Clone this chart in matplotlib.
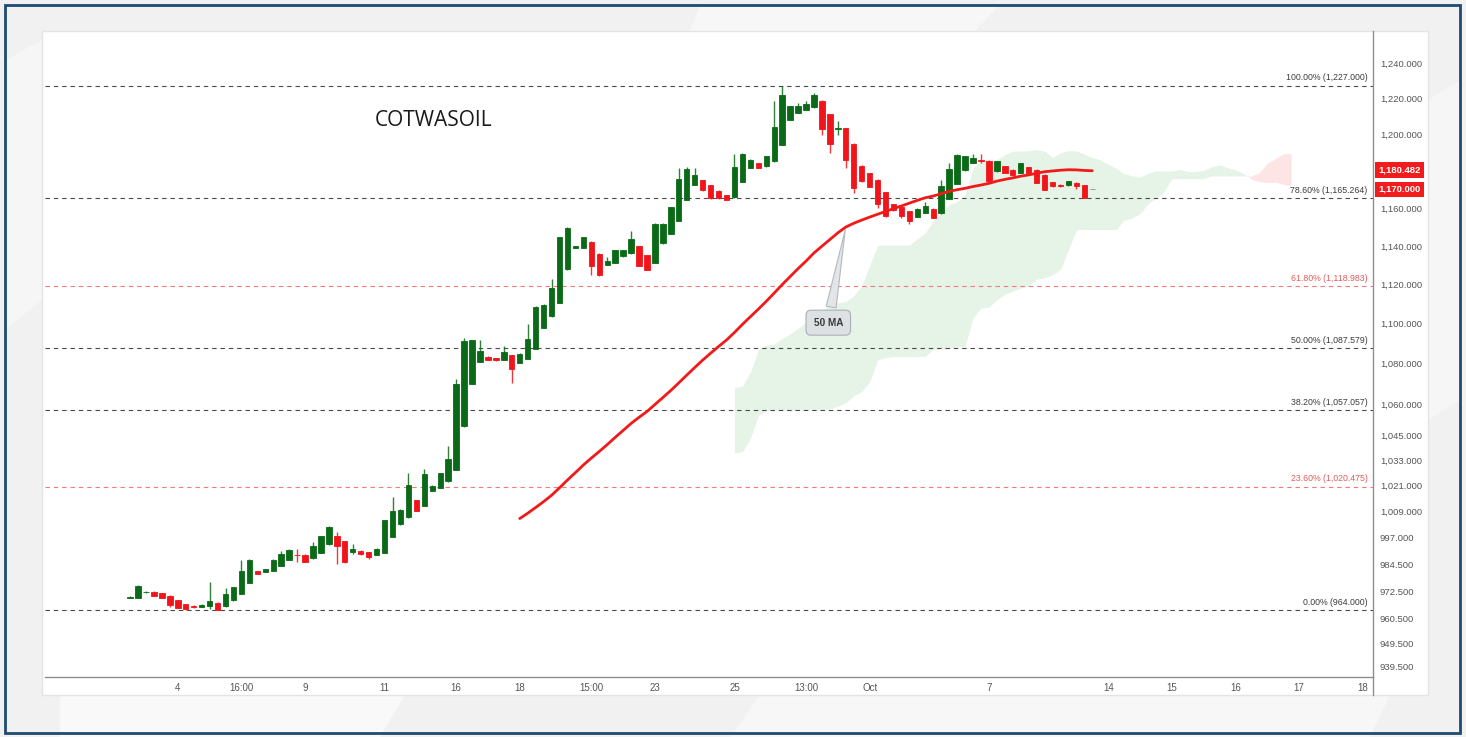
import numpy as np
import pandas as pd
import matplotlib
matplotlib.use("Agg")
import matplotlib.pyplot as plt
from matplotlib.patches import Rectangle, Polygon
from matplotlib.lines import Line2D
from matplotlib.transforms import blended_transform_factory
from matplotlib.ticker import FixedLocator, FixedFormatter, NullLocator

plt.rcParams["font.family"] = ["Liberation Sans", "DejaVu Sans"]

# ---------------- data ----------------
title = "COTWASOIL"

opens = [969.7, 969.7, 972.1, 972.3, 971.7, 970.6, 968.6, 966.8, 966.0, 965.6,
         966.0, 967.4, 965.8, 968.4, 971.5, 976.4, 981.4, 981.2, 981.8, 984.1,
         986.6, 989.0, 988.9, 987.4, 990.0, 993.8, 997.5, 995.2, 990.3, 990.9,
         990.2, 988.9, 990.0, 997.3, 1003.0, 1006.1, 1014.0, 1011.5, 1018.6, 1019.8,
         1023.0, 1028.5, 1049.1, 1070.0, 1080.7, 1083.4, 1082.7, 1081.7, 1084.0, 1080.4,
         1082.4, 1087.3, 1097.9, 1103.7, 1110.5, 1127.7, 1138.8, 1139.0, 1142.1, 1135.9,
         1130.1, 1131.2, 1134.5, 1136.0, 1139.7, 1135.0, 1131.2, 1141.3, 1146.4, 1153.3,
         1164.5, 1172.4, 1174.9, 1172.4, 1169.3, 1167.0, 1165.7, 1174.0, 1181.6, 1184.0,
         1182.5, 1185.2, 1194.3, 1208.1, 1211.8, 1213.7, 1215.0, 1218.7, 1211.2, 1202.8,
         1203.5, 1194.9, 1182.9, 1178.9, 1175.3, 1168.6, 1161.9, 1160.4, 1158.3, 1155.3,
         1157.4, 1159.6, 1157.1, 1164.9, 1173.0, 1180.3, 1184.3, 1185.9, 1185.6, 1179.8,
         1182.5, 1180.7, 1178.9, 1182.0, 1180.7, 1178.0, 1173.8, 1172.6, 1172.2, 1173.5,
         1172.2, 1170.0]
highs = [970.5, 975.3, 972.8, 972.5, 971.9, 970.8, 968.8, 967.0, 966.2, 966.7,
         976.7, 967.6, 974.0, 974.6, 986.7, 987.0, 981.6, 982.7, 986.9, 990.9,
         991.4, 991.7, 989.1, 994.9, 997.7, 1002.1, 999.6, 995.4, 993.7, 991.1,
         990.4, 991.9, 1004.9, 1015.7, 1009.8, 1026.9, 1014.2, 1028.8, 1021.3, 1027.1,
         1039.9, 1072.5, 1092.8, 1091.8, 1091.6, 1083.6, 1082.9, 1088.5, 1084.2, 1085.1,
         1099.5, 1108.7, 1110.0, 1122.5, 1144.8, 1149.8, 1139.9, 1144.8, 1142.3, 1136.1,
         1134.3, 1137.9, 1137.9, 1147.7, 1139.9, 1135.2, 1151.9, 1151.9, 1160.8, 1181.6,
         1182.0, 1181.6, 1175.1, 1172.6, 1169.5, 1167.2, 1189.4, 1189.6, 1186.3, 1184.2,
         1188.1, 1218.7, 1227.0, 1215.7, 1217.4, 1218.7, 1223.0, 1218.9, 1211.4, 1207.5,
         1203.7, 1195.1, 1183.1, 1179.1, 1175.5, 1168.8, 1162.1, 1160.6, 1158.5, 1159.9,
         1163.1, 1159.8, 1174.9, 1184.3, 1189.4, 1188.1, 1189.4, 1189.4, 1185.8, 1185.4,
         1182.7, 1180.9, 1184.5, 1182.2, 1180.9, 1178.2, 1174.0, 1172.8, 1174.6, 1173.7,
         1172.4, 1170.0]
lows = [969.3, 969.5, 971.8, 970.2, 969.3, 965.7, 964.9, 964.0, 965.0, 965.3,
        964.8, 964.2, 965.6, 968.2, 971.3, 976.2, 980.2, 981.0, 981.6, 983.9,
        986.4, 985.9, 985.7, 987.2, 989.8, 993.6, 984.8, 985.3, 989.5, 988.9,
        987.1, 988.7, 989.8, 997.1, 1002.8, 1005.9, 1009.1, 1011.3, 1018.4, 1019.6,
        1022.8, 1028.3, 1048.9, 1069.8, 1080.5, 1081.5, 1081.3, 1081.5, 1070.1, 1080.2,
        1082.2, 1087.1, 1097.7, 1103.5, 1110.3, 1127.5, 1138.6, 1138.8, 1124.6, 1124.4,
        1129.9, 1131.0, 1134.3, 1135.8, 1129.5, 1127.4, 1131.0, 1141.1, 1146.2, 1153.1,
        1164.3, 1172.2, 1169.3, 1164.9, 1164.9, 1164.3, 1165.5, 1173.8, 1181.4, 1181.6,
        1182.3, 1185.0, 1194.1, 1207.9, 1211.6, 1213.5, 1214.8, 1199.8, 1189.8, 1199.8,
        1181.6, 1168.1, 1174.2, 1171.3, 1160.1, 1155.3, 1158.5, 1154.8, 1151.7, 1155.1,
        1157.2, 1154.6, 1156.9, 1164.7, 1172.8, 1180.1, 1184.1, 1184.3, 1174.2, 1179.6,
        1178.7, 1177.4, 1178.7, 1178.7, 1173.3, 1169.7, 1171.5, 1171.5, 1172.0, 1170.2,
        1165.2, 1170.0]
closes = [969.9, 974.9, 972.4, 970.6, 969.5, 966.5, 965.1, 964.8, 965.3, 966.5,
          968.3, 964.3, 971.4, 974.4, 981.6, 986.7, 980.4, 982.5, 986.7, 989.3,
          991.2, 988.7, 985.9, 993.1, 997.5, 1001.5, 992.9, 985.5, 991.7, 989.4,
          988.0, 991.7, 1004.7, 1009.1, 1009.6, 1021.3, 1009.3, 1026.3, 1020.7, 1026.9,
          1033.5, 1070.0, 1091.1, 1091.6, 1086.2, 1081.7, 1081.5, 1085.9, 1077.1, 1084.9,
          1092.0, 1108.5, 1109.5, 1118.3, 1144.6, 1149.6, 1139.7, 1144.6, 1129.4, 1124.6,
          1132.0, 1137.7, 1137.7, 1143.7, 1129.7, 1127.6, 1151.7, 1151.7, 1160.6, 1175.7,
          1181.1, 1177.8, 1169.5, 1165.1, 1165.1, 1164.5, 1182.2, 1189.4, 1186.1, 1181.8,
          1187.9, 1203.9, 1222.1, 1215.5, 1215.9, 1217.0, 1222.1, 1203.0, 1194.9, 1203.7,
          1186.1, 1170.9, 1174.4, 1171.5, 1161.9, 1155.5, 1158.7, 1155.6, 1153.0, 1159.7,
          1161.0, 1154.8, 1172.0, 1181.1, 1188.8, 1187.9, 1187.0, 1185.6, 1174.4, 1185.2,
          1178.9, 1177.6, 1184.3, 1178.9, 1173.5, 1169.9, 1171.7, 1171.7, 1174.4, 1171.7,
          1165.4, 1170.0]

x_tick_index = [6, 14, 22, 32, 41, 49, 58, 66, 76, 85, 93, 108, 123, 131, 139, 147, 155]
x_tick_labels = ["4", "16:00", "9", "11", "16", "18", "15:00", "23", "25", "13:00",
                 "Oct", "7", "14", "15", "16", "17", "18"]

y_ticks = [1240.0, 1220.0, 1200.0, 1160.0, 1140.0, 1120.0, 1100.0, 1080.0, 1060.0,
           1045.0, 1033.0, 1021.0, 1009.0, 997.0, 984.5, 972.5, 960.5, 949.5, 939.5]

fib_ratios = [0.0, 0.236, 0.382, 0.5, 0.618, 0.786, 1.0]
fib_red = [0.236, 0.618]

ma_period = 50
ma_label = "50 MA"
price_labels = [1180.482, 1170.000]

# ---------------- styling ----------------
W, H = 1466, 737
GREEN = "#0b6a17"
RED = "#f2141b"
GRAY = "#8c8c8c"

def fx(px):
    return px / W

def fy(py):
    return 1 - py / H

fig = plt.figure(figsize=(W / 100, H / 100), dpi=100)
fig.patch.set_facecolor("#f1f1f1")

# faint background shapes
shapes = [
    ([(60, 695), (405, 695), (380, 737), (60, 737)], "#f9f9f9"),
    ([(760, 695), (1390, 695), (1370, 737), (730, 737)], "#f7f7f7"),
    ([(700, 5), (1000, 5), (975, 31), (690, 31)], "#f7f7f7"),
    ([(5, 60), (42, 40), (42, 300), (5, 330)], "#f6f6f6"),
    ([(1428, 100), (1460, 80), (1460, 400), (1428, 420)], "#f6f6f6"),
]
for pts, col in shapes:
    fig.add_artist(Polygon([(fx(a), fy(b)) for a, b in pts], closed=True,
                           transform=fig.transFigure, fc=col, ec="none", zorder=0))

# white panel
fig.add_artist(Rectangle((fx(42), fy(695)), fx(1428) - fx(42), fy(31) - fy(695),
                         transform=fig.transFigure, fc="white", ec="#e4e4e4",
                         lw=1, zorder=0.5))
# outer border
fig.add_artist(Rectangle((fx(5), fy(733)), fx(1460) - fx(5), fy(5) - fy(733),
                         transform=fig.transFigure, fill=False, ec="#1f4a72",
                         lw=2.0, zorder=20))

ax = fig.add_axes([fx(45), fy(677), fx(1373) - fx(45), fy(31) - fy(677)])
ax.set_facecolor("none")
ax.set_zorder(2)

o = np.array(opens)
h = np.array(highs)
l = np.array(lows)
c = np.array(closes)
idx = np.arange(len(c))

# ---------------- ichimoku cloud ----------------
hs, ls = pd.Series(h), pd.Series(l)
tenkan = (hs.rolling(9).max() + ls.rolling(9).min()) / 2
kijun = (hs.rolling(26).max() + ls.rolling(26).min()) / 2
span_a = ((tenkan + kijun) / 2).to_numpy()
span_b = ((hs.rolling(52).max() + ls.rolling(52).min()) / 2).to_numpy()
xs = idx + 25
m = ~np.isnan(span_b)
ax.fill_between(xs[m], span_a[m], span_b[m], where=span_a[m] >= span_b[m],
                interpolate=True, color="#e6f3e7", lw=0, zorder=1)
ax.fill_between(xs[m], span_a[m], span_b[m], where=span_a[m] < span_b[m],
                interpolate=True, color="#fde5e5", lw=0, zorder=1)

# ---------------- fibonacci levels ----------------
lo, hi = l.min(), h.max()
trans = blended_transform_factory(ax.transAxes, ax.transData)
for r in fib_ratios:
    lvl = np.exp(np.log(lo) + r * (np.log(hi) - np.log(lo)))
    is_red = r in fib_red
    lc = "#ef7b7b" if is_red else "#4a4a4a"
    tc = "#e25c5c" if is_red else "#3c3c3c"
    ax.axhline(lvl, color=lc, lw=0.8, ls=(0, (4, 3.5)), zorder=2)
    ax.annotate(f"{r * 100:.2f}% ({lvl:,.3f})", xy=(1, lvl), xycoords=trans,
                xytext=(-4, 2.5), textcoords="offset points", ha="right",
                va="bottom", fontsize=6.3, color=tc, zorder=3)

# ---------------- candles ----------------
colors = np.where(c > o, GREEN, np.where(c < o, RED, GRAY))
ax.vlines(idx, l, h, colors=colors, lw=1.0, alpha=0.85, zorder=3)
ax.bar(idx, np.abs(c - o), bottom=np.minimum(o, c), width=0.68, color=colors,
       edgecolor=colors, linewidth=0.6, zorder=4)

# ---------------- moving average ----------------
ma = pd.Series(c).rolling(ma_period).mean().to_numpy()
ax.plot(idx, ma, color="#f01a1a", lw=2.0, zorder=5, solid_capstyle="round")

ax.annotate(ma_label, xy=(90, ma[90]), xytext=(87.8, 1100.4),
            ha="center", va="center", fontsize=7.2, fontweight="bold",
            color="#3a3a3a", zorder=8,
            bbox=dict(boxstyle="round,pad=0.75,rounding_size=0.5", fc="#dde1e4",
                      ec="#aab0b6", lw=0.8),
            arrowprops=dict(arrowstyle="wedge,tail_width=1.0,shrink_factor=0.5",
                            fc="#e3e6e9", ec="#b3b8bd", lw=0.8))

# title
ax.text((375 - 45) / 1328, (677 - 120) / 646, title, transform=ax.transAxes,
        fontsize=15, family=["Open Sans", "DejaVu Sans"], color="#1a1a1a",
        ha="left", va="center")

# ---------------- axes ----------------
ax.set_yscale("log")
ax.set_ylim(934.9, 1258.4)
ax.set_xlim(-10.7, 156.3)

ax.yaxis.tick_right()
ax.yaxis.set_major_locator(FixedLocator(y_ticks))
ax.yaxis.set_major_formatter(FixedFormatter([f"{v:,.3f}" for v in y_ticks]))
ax.yaxis.set_minor_locator(NullLocator())
ax.tick_params(axis="y", which="both", length=0, pad=5, labelsize=6.8,
               labelcolor="#555555")

ax.set_xticks(x_tick_index)
ax.set_xticklabels(x_tick_labels)
ax.tick_params(axis="x", length=0, pad=4, labelsize=7, labelcolor="#555555")

for s in ("left", "top"):
    ax.spines[s].set_visible(False)
for s in ("right", "bottom"):
    ax.spines[s].set_color("#8f8f8f")
    ax.spines[s].set_linewidth(1.0)

# extend right axis line down through the time scale
fig.add_artist(Line2D([fx(1373), fx(1373)], [fy(677), fy(695)],
                      transform=fig.transFigure, color="#8f8f8f", lw=1.0, zorder=3))

# last-value price labels
for val in price_labels:
    ax.text(1.0038, val, f"{val:,.3f}", transform=trans, ha="left", va="center",
            color="white", fontsize=6.8, fontweight="bold", zorder=10, clip_on=False,
            bbox=dict(boxstyle="square,pad=0.35", fc="#f21c1c", ec="none"))

fig.savefig("out.png", dpi=100, facecolor=fig.get_facecolor())
